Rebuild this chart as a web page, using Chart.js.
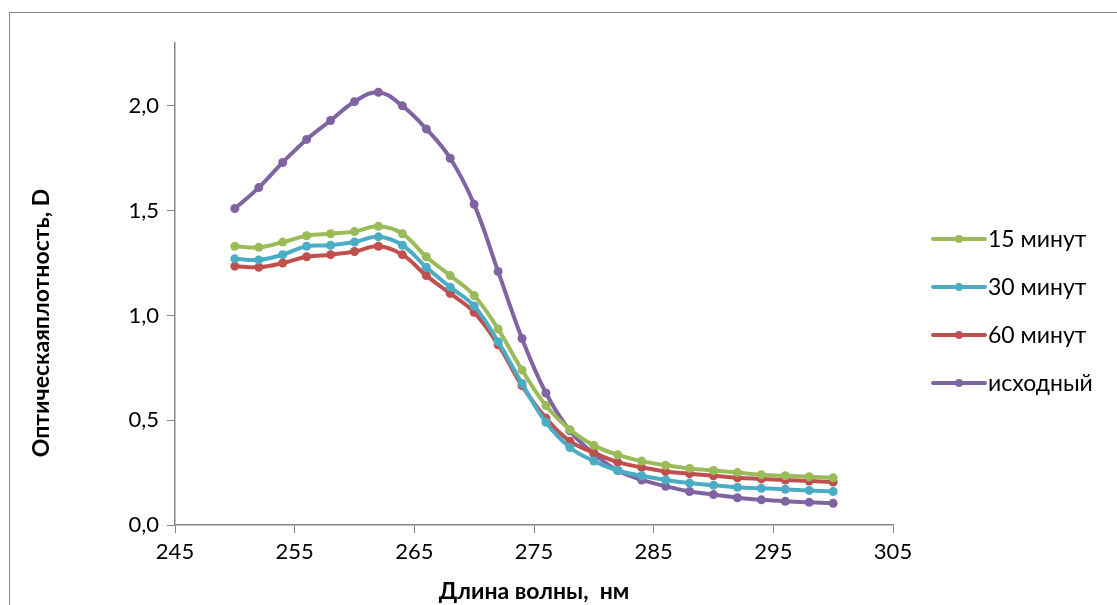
<!DOCTYPE html>
<html>
<head>
<meta charset="utf-8">
<script src="https://cdn.jsdelivr.net/npm/chart.js@4"></script>
<style>
  html, body { margin: 0; padding: 0; background: #fff; }
  #wrap { position: relative; width: 1117px; height: 605px; overflow: hidden; }
  #frame { position: absolute; left: 9px; top: 12px; width: 1200px; height: 700px; border: 1px solid #888; box-sizing: border-box; }
  canvas { position: absolute; left: 0; top: 0; }
</style>
</head>
<body>
<div id="wrap">
  <div id="frame"></div>
  <canvas id="chart" width="1117" height="605"></canvas>
</div>
<script>
// wavelengths, nm
const wavelengths = [250, 252, 254, 256, 258, 260, 262, 264, 266, 268, 270, 272, 274,
  276, 278, 280, 282, 284, 286, 288, 290, 292, 294, 296, 298, 300];

const min15 = [1.33, 1.325, 1.35, 1.38, 1.39, 1.40, 1.425, 1.39, 1.28, 1.19, 1.095, 0.935, 0.74,
  0.57, 0.455, 0.38, 0.335, 0.305, 0.285, 0.27, 0.26, 0.25, 0.24, 0.235, 0.23, 0.225];
const min30 = [1.27, 1.265, 1.29, 1.33, 1.335, 1.35, 1.375, 1.335, 1.23, 1.135, 1.045, 0.875, 0.675,
  0.49, 0.37, 0.305, 0.26, 0.235, 0.215, 0.20, 0.19, 0.18, 0.175, 0.17, 0.165, 0.16];
const min60 = [1.235, 1.23, 1.25, 1.28, 1.29, 1.305, 1.33, 1.29, 1.19, 1.105, 1.015, 0.86, 0.665,
  0.51, 0.40, 0.345, 0.30, 0.275, 0.255, 0.245, 0.235, 0.225, 0.22, 0.215, 0.21, 0.205];
const initial = [1.51, 1.61, 1.73, 1.84, 1.93, 2.02, 2.065, 2.00, 1.89, 1.75, 1.53, 1.21, 0.89,
  0.63, 0.45, 0.34, 0.26, 0.215, 0.185, 0.16, 0.145, 0.13, 0.12, 0.113, 0.108, 0.104];

const seriesNames = ["15 минут", "30 минут", "60 минут", "исходный"];
const seriesColors = ["#9BBB59", "#4BACC6", "#C0504D", "#8064A2"];
const seriesValues = [min15, min30, min60, initial];

const yTitle = "Оптическаяплотность, D";
const xTitle = "Длина волны,  нм";

const FONT = "Lato, 'Open Sans', sans-serif";
const axisGray = "#868686";

const datasets = seriesValues.map((vals, i) => ({
  label: seriesNames[i],
  data: vals.map((v, j) => ({ x: wavelengths[j], y: v })),
  borderColor: seriesColors[i],
  backgroundColor: seriesColors[i],
  borderWidth: 4,
  pointRadius: 4.5,
  pointBorderWidth: 0,
  tension: 0.4,
  fill: false,
}));

// legend drawn by hand: Excel-style line with a dot; y title placed like Excel's
const extras = {
  id: "extras",
  afterDraw(chart) {
    const ctx = chart.ctx;
    ctx.save();
    chart.data.datasets.forEach((ds, i) => {
      const y = 239 + i * 48;
      ctx.strokeStyle = ds.borderColor;
      ctx.lineWidth = 4;
      ctx.lineCap = "round";
      ctx.beginPath();
      ctx.moveTo(933, y);
      ctx.lineTo(985, y);
      ctx.stroke();
      ctx.fillStyle = ds.borderColor;
      ctx.beginPath();
      ctx.arc(959, y, 4, 0, Math.PI * 2);
      ctx.fill();
      ctx.fillStyle = "#000";
      ctx.font = "23px " + FONT;
      ctx.textBaseline = "middle";
      ctx.fillText(ds.label, 988, y + 1);
    });
    ctx.translate(42, 323);
    ctx.rotate(-Math.PI / 2);
    ctx.font = "bold 23px " + FONT;
    ctx.textAlign = "center";
    ctx.textBaseline = "middle";
    ctx.fillStyle = "#000";
    ctx.fillText(yTitle, 0, 0);
    ctx.restore();
  }
};

new Chart(document.getElementById("chart"), {
  type: "line",
  data: { datasets },
  plugins: [extras],
  options: {
    responsive: false,
    animation: false,
    layout: { padding: { left: 26, top: 43, right: 224, bottom: 0 } },
    plugins: { legend: { display: false }, tooltip: { enabled: false } },
    scales: {
      x: {
        type: "linear",
        min: 245,
        max: 305,
        ticks: { stepSize: 10, color: "#000", font: { family: FONT, size: 22 }, padding: 6 },
        grid: { display: true, drawOnChartArea: false, drawTicks: true, tickLength: 8, color: axisGray },
        border: { display: true, color: axisGray, width: 1.5 },
        title: {
          display: true,
          text: xTitle,
          color: "#000",
          font: { family: FONT, size: 23, weight: "bold" },
          padding: { top: 4, bottom: 0 }
        },
        afterFit: (s) => { s.height = 80; }
      },
      y: {
        min: 0,
        max: 2.3,
        ticks: {
          stepSize: 0.5,
          color: "#000",
          font: { family: FONT, size: 22 },
          padding: 8,
          callback: (v) => v.toFixed(1).replace(".", ",")
        },
        afterBuildTicks: (s) => { s.ticks = s.ticks.filter(t => Math.abs(t.value * 2 - Math.round(t.value * 2)) < 1e-6); },
        grid: { display: true, drawOnChartArea: false, drawTicks: true, tickLength: 8, color: axisGray },
        border: { display: true, color: axisGray, width: 1.5 },
        title: { display: false },
        afterFit: (s) => { s.width = 175 - 26; }
      }
    }
  }
});
</script>
</body>
</html>
